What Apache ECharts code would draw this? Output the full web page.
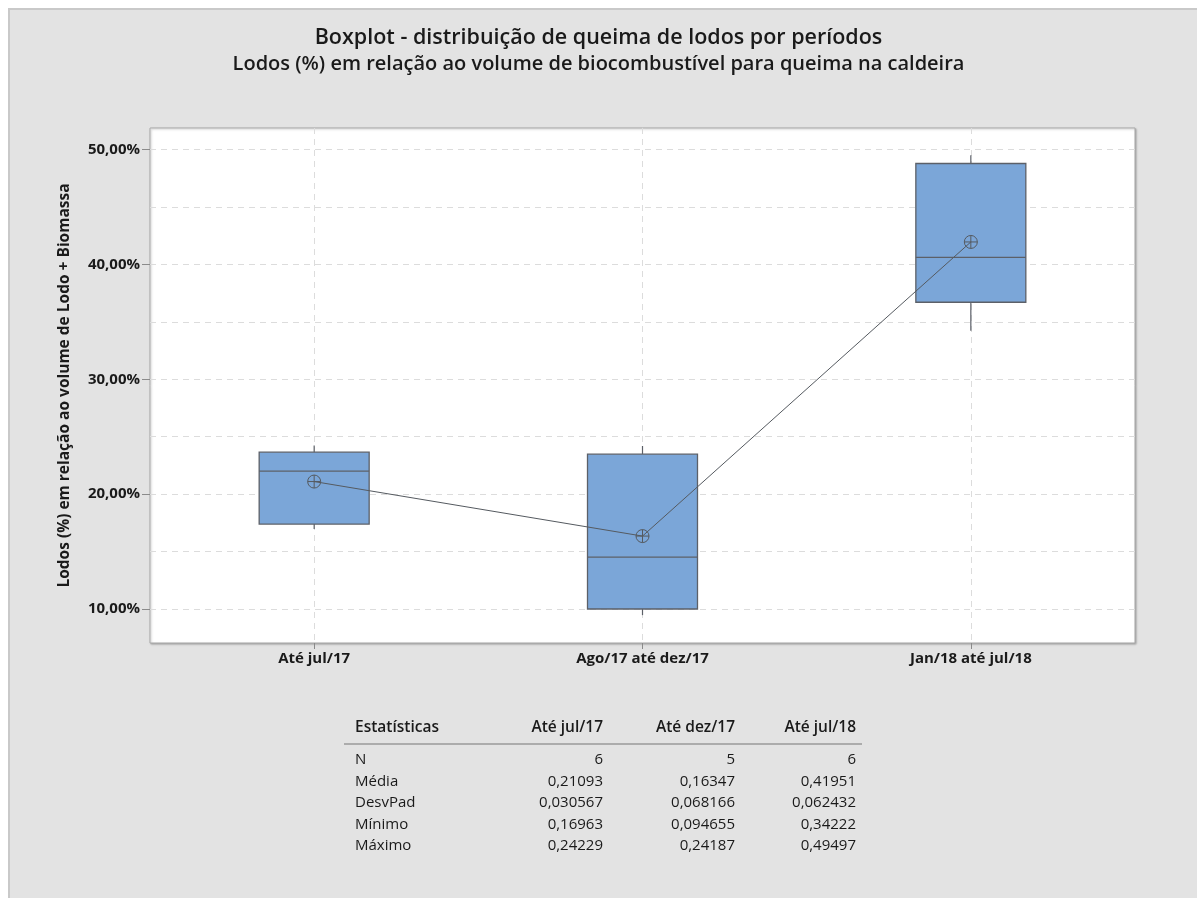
<!DOCTYPE html>
<html>
<head>
<meta charset="utf-8">
<script src="https://cdn.jsdelivr.net/npm/echarts@6/dist/echarts.min.js"></script>
<style>
  html, body { margin: 0; padding: 0; background: #ffffff; }
  #frame {
    position: absolute; left: 8px; top: 8px; width: 1200px; height: 900px;
    background: #e3e3e3; border-left: 2px solid #c9c9c9; border-top: 2px solid #c9c9c9;
  }
  #chart { position: absolute; left: 0; top: 0; width: 1197px; height: 898px; }
</style>
</head>
<body>
<div id="frame"></div>
<div id="chart"></div>
<script>
// Periods on the x axis
const categories = ['Até jul/17', 'Ago/17 até dez/17', 'Jan/18 até jul/18'];

// Box statistics per period (fraction of sludge in total fuel volume)
const minVals    = [0.16963, 0.094655, 0.34222];
const q1Vals     = [0.1739, 0.1000, 0.3670];
const medianVals = [0.2200, 0.1452, 0.4061];
const q3Vals     = [0.2365, 0.2348, 0.4878];
const maxVals    = [0.24229, 0.24187, 0.49497];
const meanVals   = [0.21093, 0.16347, 0.41951];
const stdVals    = [0.030567, 0.068166, 0.062432];
const nVals      = [6, 5, 6];

// Axis ticks
const yLabelTicks = [0.10, 0.20, 0.30, 0.40, 0.50];
const yGridTicks  = [0.10, 0.15, 0.20, 0.25, 0.30, 0.35, 0.40, 0.45, 0.50];

// Statistics table
const tableHeader  = ['Estatísticas', 'Até jul/17', 'Até dez/17', 'Até jul/18'];
const tableRowNames = ['N', 'Média', 'DesvPad', 'Mínimo', 'Máximo'];

const fmtNum = v => (Number.isInteger(v) ? String(v) : v.toPrecision(5)).replace('.', ',');
const tableRows = [nVals, meanVals, stdVals, minVals, maxVals];

const FONT = '"Open Sans", "Noto Sans", sans-serif';
const TXT = '#1a1a1a';

const boxData = categories.map((c, i) => [i + 1, minVals[i], q1Vals[i], medianVals[i], q3Vals[i], maxVals[i]]);
const meanData = categories.map((c, i) => [i + 1, meanVals[i]]);

// Table as graphic text
const colRight = [null, 603, 735, 856];
const tableGraphics = [];
tableHeader.forEach((h, j) => {
  tableGraphics.push({
    type: 'text',
    x: j === 0 ? 355 : colRight[j], y: 728,
    style: { text: h, font: '600 15.5px ' + FONT, fill: TXT,
             textAlign: j === 0 ? 'left' : 'right', textVerticalAlign: 'middle' }
  });
});
tableGraphics.push({
  type: 'line', shape: { x1: 344, y1: 744, x2: 862, y2: 744 },
  style: { stroke: '#9a9a9a', lineWidth: 1.5 }
});
const rowY = [760, 781.5, 803, 824.5, 846];
tableRowNames.forEach((name, r) => {
  tableGraphics.push({
    type: 'text', x: 355, y: rowY[r],
    style: { text: name, font: '15px ' + FONT, fill: TXT, textAlign: 'left', textVerticalAlign: 'middle' }
  });
  tableRows[r].forEach((v, j) => {
    tableGraphics.push({
      type: 'text', x: colRight[j + 1], y: rowY[r],
      style: { text: fmtNum(v), font: '15px ' + FONT, fill: TXT, textAlign: 'right', textVerticalAlign: 'middle' }
    });
  });
});

const chart = echarts.init(document.getElementById('chart'), null, { renderer: 'canvas' });

const yLabelFmt = v => (v * 100).toFixed(2).replace('.', ',') + '%';

const option = {
  backgroundColor: 'transparent',
  animation: false,
  title: [
    { text: 'Boxplot - distribuição de queima de lodos por períodos',
      left: 'center', top: 22,
      textStyle: { fontFamily: FONT, fontSize: 21.5, fontWeight: 600, color: TXT } },
    { text: 'Lodos (%) em relação ao volume de biocombustível para queima na caldeira',
      left: 'center', top: 49,
      textStyle: { fontFamily: FONT, fontSize: 20, fontWeight: 600, color: TXT } }
  ],
  grid: {
    left: 150, top: 128, width: 985, height: 515,
    show: true, backgroundColor: '#ffffff', borderColor: '#a8a8a8', borderWidth: 1,
    shadowColor: 'rgba(0,0,0,0.25)', shadowBlur: 2, shadowOffsetX: 1, shadowOffsetY: 1
  },
  xAxis: {
    type: 'value', min: 0.5, max: 3.5,
    axisLine: { show: false },
    axisTick: { show: true, customValues: [1, 2, 3], length: 6, lineStyle: { color: '#8a8a8a' } },
    axisLabel: {
      customValues: [1, 2, 3], margin: 8,
      formatter: v => categories[Math.round(v) - 1],
      fontFamily: FONT, fontSize: 15, fontWeight: 'bold', color: TXT
    },
    splitLine: { show: true, lineStyle: { color: '#dcdcdc', type: [6, 5], width: 1 } }
  },
  yAxis: [
    {
      type: 'value', min: 0.0704, max: 0.5187,
      name: 'Lodos (%) em relação ao volume de Lodo + Biomassa',
      nameLocation: 'middle', nameGap: 77,
      nameTextStyle: { fontFamily: FONT, fontSize: 15.5, fontWeight: 'bold', color: TXT },
      axisLine: { show: false },
      axisTick: { show: false, customValues: yGridTicks },
      axisLabel: {
        customValues: yLabelTicks, margin: 10, formatter: yLabelFmt,
        fontFamily: FONT, fontSize: 15, fontWeight: 'bold', color: TXT
      },
      splitLine: { show: true, lineStyle: { color: '#dcdcdc', type: [6, 5], width: 1 } }
    },
    {
      type: 'value', min: 0.0704, max: 0.5187, position: 'left',
      axisLine: { show: false },
      axisTick: { show: true, customValues: yLabelTicks, length: 8, lineStyle: { color: '#8a8a8a' } },
      axisLabel: { show: false },
      splitLine: { show: false }
    }
  ],
  graphic: tableGraphics,
  series: [
    {
      type: 'custom',
      data: boxData,
      z: 3,
      renderItem: (params, api) => {
        const x = api.value(0);
        const pMin = api.coord([x, api.value(1)]);
        const pQ1 = api.coord([x, api.value(2)]);
        const pMed = api.coord([x, api.value(3)]);
        const pQ3 = api.coord([x, api.value(4)]);
        const pMax = api.coord([x, api.value(5)]);
        const half = api.size([1, 0])[0] * 0.335 / 2;
        const stroke = { stroke: '#5c6068', lineWidth: 1.2 };
        return {
          type: 'group',
          children: [
            { type: 'line', shape: { x1: pMax[0], y1: pMax[1], x2: pQ3[0], y2: pQ3[1] }, style: stroke },
            { type: 'line', shape: { x1: pQ1[0], y1: pQ1[1], x2: pMin[0], y2: pMin[1] }, style: stroke },
            { type: 'rect', shape: { x: pQ3[0] - half, y: pQ3[1], width: half * 2, height: pQ1[1] - pQ3[1] },
              style: { fill: '#7ba6d8', stroke: '#5c6068', lineWidth: 1.3 } },
            { type: 'line', shape: { x1: pMed[0] - half, y1: pMed[1], x2: pMed[0] + half, y2: pMed[1] }, style: stroke }
          ]
        };
      }
    },
    {
      type: 'line',
      data: meanData,
      z: 5,
      symbol: 'path://M10,0A10,10,0,1,1,-10,0A10,10,0,1,1,10,0ZM-10,0L10,0M0,-10L0,10',
      symbolSize: 13,
      lineStyle: { color: '#555a60', width: 1 },
      itemStyle: { color: 'rgba(0,0,0,0)', borderColor: '#555a60', borderWidth: 1 }
    }
  ]
};

chart.setOption(option);
</script>
</body>
</html>
